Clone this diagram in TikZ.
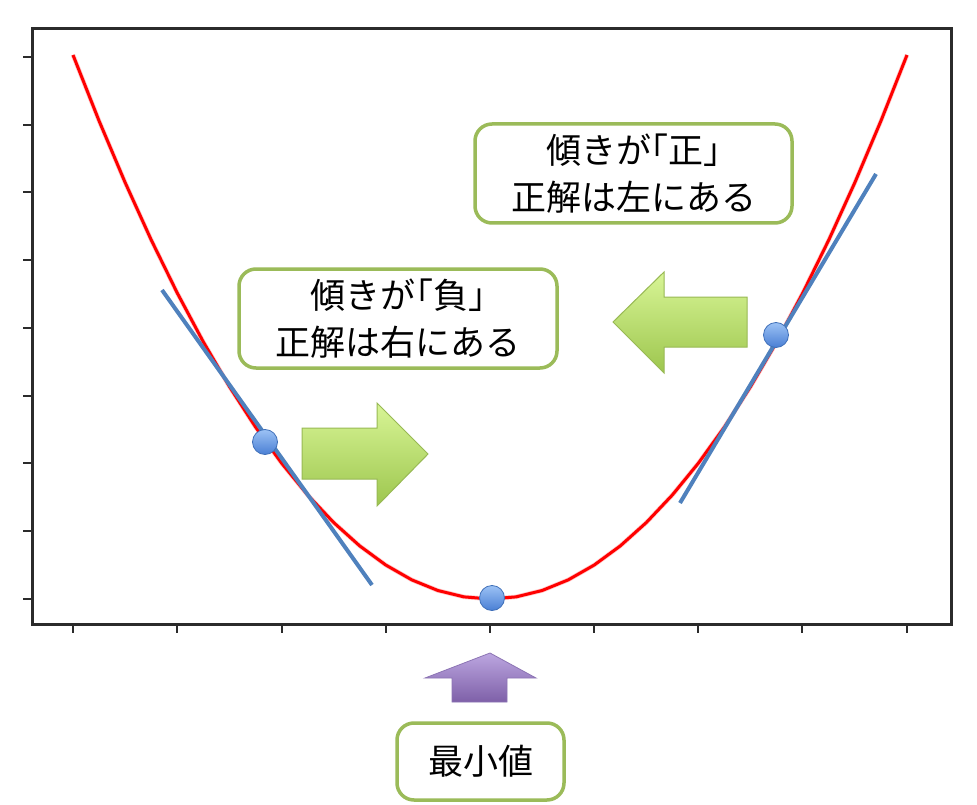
\documentclass[tikz,border=0pt]{standalone}
\usepackage{fontspec}
\newfontfamily\jpfont{Noto Sans CJK JP}
\definecolor{axcol}{HTML}{2B2B2B}
\definecolor{boxgreen}{HTML}{9BBB59}
\definecolor{arrtop}{HTML}{D8F596}
\definecolor{arrbot}{HTML}{9DC64E}
\definecolor{arredge}{HTML}{98B954}
\definecolor{purtop}{HTML}{BCA6E0}
\definecolor{purbot}{HTML}{7E60A8}
\definecolor{puredge}{HTML}{8C74B4}
\definecolor{tanblue}{HTML}{4F81BD}
\definecolor{dottop}{HTML}{9CC2F5}
\definecolor{dotbot}{HTML}{4A7FD4}
\definecolor{dotedge}{HTML}{3F6FB8}
\newcommand{\lbr}{\kern-0.5em「}
\newcommand{\rbr}{」\kern-0.5em}
\tikzset{
  greenbox/.style={draw=boxgreen, line width=3.5pt, fill=white, rounded corners=17pt, inner sep=0pt, font=\jpfont\fontsize{35}{47}\selectfont, align=center},
  tick/.style={draw=axcol, line width=2.6pt},
  tangent/.style={draw=tanblue, line width=4pt},
  dot/.style={circle, minimum size=25pt, inner sep=0pt, top color=dottop, bottom color=dotbot, draw=dotedge, line width=0.8pt},
  greenarrow/.style={top color=arrtop, bottom color=arrbot, draw=arredge, line width=1pt},
  purplearrow/.style={top color=purtop, bottom color=purbot, draw=puredge, line width=0.8pt}
}
\begin{document}
\begin{tikzpicture}[x=1pt, y=-1pt]
\useasboundingbox (0,0) rectangle (977,805);
\fill[white] (0,0) rectangle (977,805);
% axes frame
\draw[axcol, line width=3pt] (32,29) rectangle (951,624);
\foreach \yy in {57,125,192,260,328,396,463,531,599} \draw[tick] (23,\yy) -- (32,\yy);
\foreach \xx in {73,177,282,386,490,594,698,802,907} \draw[tick] (\xx,624) -- (\xx,633);
% curve
\draw[red, line width=4.5pt, line join=round, opacity=0.2] plot[domain=-4:4, samples=33] ({490+104.25*\x},{599-34*\x*\x});
\draw[red, line width=3pt, line join=round] plot[domain=-4:4, samples=33] ({490+104.25*\x},{599-34*\x*\x});
% tangents
\coordinate (lt1) at (162,290);
\coordinate (lt2) at (372,585);
\coordinate (rt1) at (680,503);
\coordinate (rt2) at (876,174);
\draw[tangent] (lt1) -- (lt2);
\draw[tangent] (rt1) -- (rt2);
% dots
\node[dot] (pl) at (265,442) {};
\node[dot] (pr) at (776,335) {};
\node[dot] (pm) at (492,598) {};
% green arrows
\shadedraw[greenarrow] (302,428) -- (377,428) -- (377,403) -- (428,454) -- (377,506) -- (377,479) -- (302,479) -- cycle;
\shadedraw[greenarrow] (747,297) -- (664,297) -- (664,272) -- (613,322) -- (664,373) -- (664,347) -- (747,347) -- cycle;
% purple arrow
\shadedraw[purplearrow] (452,702) -- (452,678) -- (425,678) -- (490,653) -- (536,678) -- (507,678) -- (507,702) -- cycle;
% boxes
\node[greenbox, minimum width=317pt, minimum height=99pt] (bpos) at (633.5,173.5) {傾きが\lbr 正\rbr\\正解は左にある};
\node[greenbox, minimum width=318pt, minimum height=99pt] (bneg) at (398,318.5) {傾きが\lbr 負\rbr\\正解は右にある};
\node[greenbox, minimum width=167pt, minimum height=77pt] (bmin) at (480.5,761.5) {最小値};
\end{tikzpicture}
\end{document}
